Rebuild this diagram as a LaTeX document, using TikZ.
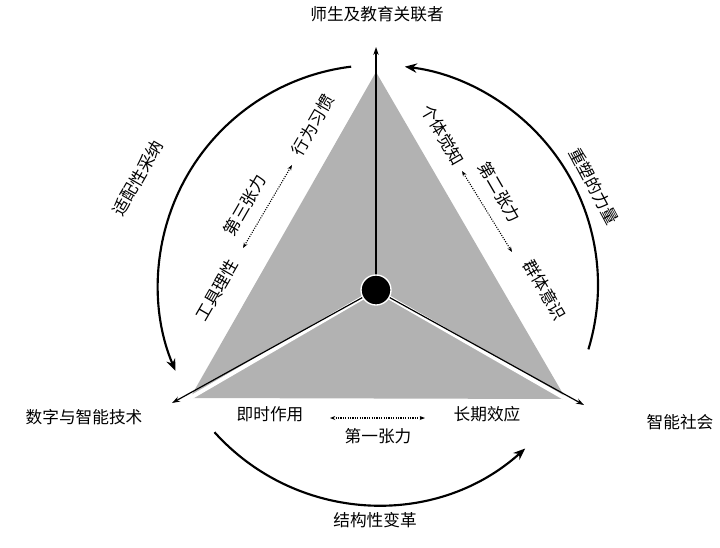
\documentclass[tikz,border=0pt]{standalone}
\usepackage{fontspec}
\setmainfont{Noto Sans CJK SC}
\usetikzlibrary{arrows.meta}
\begin{document}
\begin{tikzpicture}[x=0.75pt,y=-0.75pt,
  lbl/.style={font=\fontsize{12.5}{14}\selectfont},
  arc/.style={line width=1.6pt,-{Stealth[length=9pt,width=7pt]}},
  spoke/.style={line width=0.9pt,-{Stealth[length=6pt,width=4pt]}},
  tens/.style={densely dotted,line width=0.8pt,{Stealth[length=4pt]}-{Stealth[length=4pt]}}]
\useasboundingbox (0,0) rectangle (720,547);
\coordinate (c) at (376,290);
\coordinate (vt) at (376,72);
\coordinate (vl) at (190,398);
\coordinate (vr) at (566,399);
\fill[gray!60] (vt) -- (vl) -- (vr) -- cycle;
\coordinate (et) at (376,47);
\coordinate (el) at (172,403);
\coordinate (er) at (584,405);
\draw[white,line width=3pt] (c) -- (vl) (c) -- (vr);
\draw[spoke] (c) -- (et);
\draw[spoke] (c) -- (el);
\draw[spoke] (c) -- (er);
\node[circle,fill=black,draw=white,line width=1pt,minimum size=30pt*0.75] (hub) at (c) {};
% arcs
\draw[arc] (378,285) ++(-97:220) arc[start angle=-97,end angle=-203,radius=220];
\draw[arc] (378,285) ++(17:220) arc[start angle=17,end angle=-83,radius=220];
\draw[arc] (378,285) ++(-222:220) arc[start angle=-222,end angle=-312,radius=220];
% outer labels
\node[lbl] (n1) at (377,14) {师生及教育关联者};
\node[lbl] (n2) at (84,417) {数字与智能技术};
\node[lbl] (n3) at (680,422) {智能社会};
\node[lbl] (n4) at (375,520) {结构性变革};
\node[lbl,rotate=60] (n5) at (138,178) {适配性采纳};
\node[lbl,rotate=-62] (n6) at (594,186) {重塑的力量};
% bottom
\node[lbl] (b1) at (270,414) {即时作用};
\node[lbl] (b2) at (487,414) {长期效应};
\node[lbl] (b3) at (378,436) {第一张力};
\draw[tens] (330,418) -- (425,418);
% left
\node[lbl,rotate=60] (l1) at (217,290) {工具理性};
\node[lbl,rotate=60] (l2) at (245,205) {第三张力};
\node[lbl,rotate=60] (l3) at (313,125) {行为习惯};
\draw[tens] (243,248) -- (292,165);
% right
\node[lbl,rotate=-60] (r1) at (443,135) {个体觉知};
\node[lbl,rotate=-60] (r2) at (500,192) {第二张力};
\node[lbl,rotate=-60] (r3) at (545,290) {群体意识};
\draw[tens] (462,171) -- (512,252);
\end{tikzpicture}
\end{document}
